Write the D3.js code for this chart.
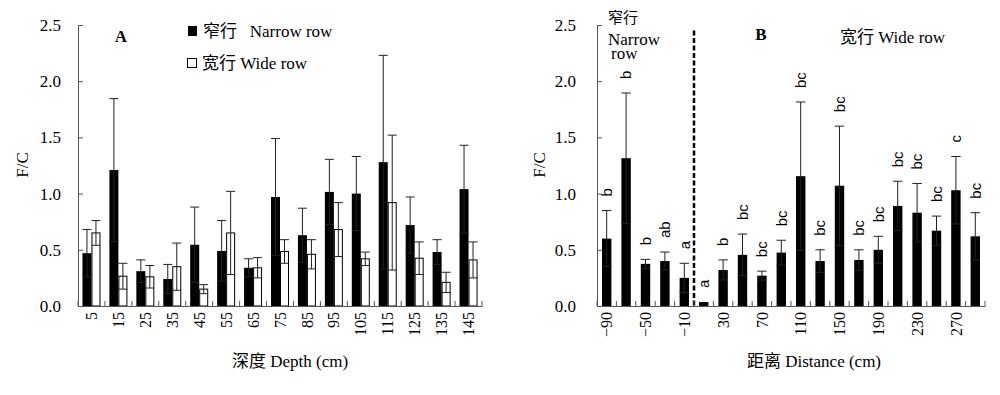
<!DOCTYPE html>
<html lang="zh">
<head>
<meta charset="UTF-8">
<title>F/C</title>
<script src="https://cdn.jsdelivr.net/npm/d3@7/dist/d3.min.js"></script>
<style>
    body { margin: 0; background: #fff; }
</style>
</head>
<body>
<div id="chart"></div>
<script>
const W = 1000, H = 395;

// panel A: depth profile
const depth = [5, 15, 25, 35, 45, 55, 65, 75, 85, 95, 105, 115, 125, 135, 145];
const narrowMean = [0.47, 1.21, 0.31, 0.24, 0.545, 0.49, 0.34, 0.97, 0.63, 1.015, 1.00, 1.28, 0.72, 0.48, 1.04];
const narrowSE   = [0.21, 0.635, 0.10, 0.13, 0.335, 0.27, 0.08, 0.52, 0.24, 0.29, 0.33, 0.95, 0.25, 0.11, 0.39];
const wideMean   = [0.65, 0.265, 0.26, 0.35, 0.15, 0.65, 0.34, 0.485, 0.46, 0.68, 0.42, 0.92, 0.425, 0.21, 0.41];
const wideSE     = [0.11, 0.115, 0.10, 0.21, 0.04, 0.37, 0.09, 0.105, 0.13, 0.24, 0.06, 0.60, 0.145, 0.09, 0.16];

// panel B: distance from row
const distance = [-90, -70, -50, -30, -10, 10, 30, 50, 70, 90, 110, 130, 150, 170, 190, 210, 230, 250, 270, 290];
const distMean = [0.60, 1.315, 0.375, 0.40, 0.25, 0.035, 0.32, 0.455, 0.27, 0.475, 1.155, 0.40, 1.07, 0.41, 0.50, 0.89, 0.83, 0.67, 1.03, 0.62];
const distSE   = [0.25, 0.58, 0.04, 0.08, 0.13, 0, 0.09, 0.185, 0.04, 0.11, 0.66, 0.10, 0.53, 0.09, 0.12, 0.22, 0.26, 0.13, 0.30, 0.21];
const distSig  = ['b', 'b', 'b', 'ab', 'a', 'a', 'b', 'bc', 'bc', 'bc', 'bc', 'bc', 'bc', 'bc', 'bc', 'bc', 'bc', 'bc', 'c', 'bc'];
const distTicks = [-90, -50, -10, 30, 70, 110, 150, 190, 230, 270];

const yTicks = [0, 0.5, 1.0, 1.5, 2.0, 2.5];

const SERIF = '"Liberation Serif", "Times New Roman", "DejaVu Serif", serif';
const CJK = '"Noto Sans CJK SC", sans-serif';
const SANS = '"Liberation Sans", Arial, sans-serif';

const svg = d3.select('#chart').append('svg')
    .attr('width', W).attr('height', H);

const y = d3.scaleLinear().domain([0, 2.5]).range([306, 25]);
const axisCol = '#555';

// text helper: chinese part and latin part get their own font
function label(g, x, yy, cjk, latin, size, extra) {
    const t = g.append('text').attr('x', x).attr('y', yy)
        .style('font-size', size + 'px').attr('fill', '#000')
        .attr('xml:space', 'preserve')
    if (cjk) t.append('tspan').style('font-family', CJK).text(cjk)
    if (latin) t.append('tspan').style('font-family', SERIF).text(latin)
    if (extra) extra(t)
    return t
}

function yAxis(g, left, pad) {
    g.attr('transform', `translate(${left},0)`)
        .call(d3.axisLeft(y).tickValues(yTicks).tickFormat(d3.format('.1f')).tickSize(-5).tickSizeOuter(0).tickPadding(pad))
    g.select('.domain').attr('stroke', axisCol)
    g.selectAll('.tick line').attr('stroke', axisCol)
    g.selectAll('.tick text').style('font-size', '17px').style('font-family', SERIF)
}

function xAxis(g, x, vals, fmt) {
    g.attr('transform', `translate(0,${y(0)})`)
        .call(d3.axisBottom(x).tickValues(vals).tickFormat(fmt).tickSize(0).tickSizeOuter(0))
    g.select('.domain').attr('stroke', axisCol)
    g.selectAll('.tick text')
        .style('font-size', '16px')
        .style('font-family', SERIF)
        .attr('transform', 'rotate(-90)')
        .attr('text-anchor', 'end')
        .attr('x', -6).attr('y', 0).attr('dy', '0.35em')
    // little inner ticks on band boundaries
    const r = x.range()
    const n = x.domain().length
    g.selectAll('.sep').data(d3.range(n + 1)).enter()
        .append('line').attr('class', 'sep')
        .attr('x1', i => r[0] + i * x.step()).attr('x2', i => r[0] + i * x.step())
        .attr('y1', 0).attr('y2', -5)
        .attr('stroke', axisCol)
}

function errBars(g, cx, mean, se, half) {
    const data = mean.map((m, i) => ({ i: i, m: m, s: se[i] })).filter(d => d.s > 0)
    const e = g.append('g').attr('stroke', '#222').attr('stroke-width', 1)
    e.selectAll('.v').data(data).enter().append('line')
        .attr('x1', d => cx(d.i)).attr('x2', d => cx(d.i))
        .attr('y1', d => y(d.m - d.s)).attr('y2', d => y(d.m + d.s))
    e.selectAll('.t').data(data).enter().append('line')
        .attr('x1', d => cx(d.i) - half).attr('x2', d => cx(d.i) + half)
        .attr('y1', d => y(d.m + d.s)).attr('y2', d => y(d.m + d.s))
    e.selectAll('.b').data(data).enter().append('line')
        .attr('x1', d => cx(d.i) - half).attr('x2', d => cx(d.i) + half)
        .attr('y1', d => y(d.m - d.s)).attr('y2', d => y(d.m - d.s))
}

// ---------- A ----------
const xA = d3.scaleBand().domain(depth).range([78, 482])
const bwA = 9
const gA = svg.append('g')

gA.append('g').selectAll('rect.n').data(narrowMean).enter().append('rect')
    .attr('x', (d, i) => xA(depth[i]) + xA.bandwidth() / 2 - bwA)
    .attr('y', d => y(d)).attr('width', bwA).attr('height', d => y(0) - y(d))
    .attr('fill', '#000')
gA.append('g').selectAll('rect.w').data(wideMean).enter().append('rect')
    .attr('x', (d, i) => xA(depth[i]) + xA.bandwidth() / 2 + 0.5)
    .attr('y', d => y(d)).attr('width', bwA - 1).attr('height', d => y(0) - y(d))
    .attr('fill', '#fff').attr('stroke', '#000').attr('stroke-width', 1)

errBars(gA, i => xA(depth[i]) + xA.bandwidth() / 2 - bwA / 2, narrowMean, narrowSE, 4.5)
errBars(gA, i => xA(depth[i]) + xA.bandwidth() / 2 + bwA / 2, wideMean, wideSE, 4.5)

gA.append('g').call(yAxis, 78, 17)
gA.append('g').call(xAxis, xA, depth, d => d)

label(gA, 121, 42, null, 'A', 17, t => t.attr('text-anchor', 'middle').style('font-weight', 'bold'))

// legend
gA.append('rect').attr('x', 188).attr('y', 26).attr('width', 9).attr('height', 10).attr('fill', '#000')
gA.append('rect').attr('x', 187.5).attr('y', 58.5).attr('width', 9).attr('height', 9)
    .attr('fill', '#fff').attr('stroke', '#000')
label(gA, 203, 37, '窄行', '   Narrow row', 17)
label(gA, 202, 69, '宽行', ' Wide row', 17)

label(gA, 0, 0, null, 'F/C', 17, t => t.attr('transform', 'translate(28,165) rotate(-90)').attr('text-anchor', 'middle'))
label(gA, 290, 367, '深度', ' Depth (cm)', 17, t => t.attr('text-anchor', 'middle'))

// ---------- B ----------
const xB = d3.scaleBand().domain(distance).range([597, 985])
const bwB = 9.4
const gB = svg.append('g')

gB.append('g').selectAll('rect').data(distMean).enter().append('rect')
    .attr('x', (d, i) => xB(distance[i]) + (xB.bandwidth() - bwB) / 2)
    .attr('y', d => y(d)).attr('width', bwB).attr('height', d => y(0) - y(d))
    .attr('fill', '#000')

const cxB = i => xB(distance[i]) + xB.bandwidth() / 2
errBars(gB, cxB, distMean, distSE, 4.7)

gB.append('g').selectAll('text').data(distSig).enter().append('text')
    .attr('transform', (d, i) => `translate(${cxB(i)},${y(distMean[i] + distSE[i]) - 14}) rotate(-90)`)
    .attr('dy', '0.35em')
    .style('font-family', SANS)
    .style('font-size', '15px')
    .text(d => d)

// narrow / wide split
const split = xB.range()[0] + 5 * xB.step()
gB.append('line').attr('x1', split).attr('x2', split)
    .attr('y1', y(2.45)).attr('y2', y(0))
    .attr('stroke', '#000').attr('stroke-width', 2.5).attr('stroke-dasharray', '5,2.5')

gB.append('g').call(yAxis, 597, 21)
gB.append('g').call(xAxis, xB, distTicks, d => d < 0 ? '\u2212' + Math.abs(d) : d)

label(gB, 761, 40, null, 'B', 17, t => t.attr('text-anchor', 'middle').style('font-weight', 'bold'))
label(gB, 840, 43, '宽行', ' Wide row', 17)
label(gB, 608, 23, '窄行', null, 15)
label(gB, 608, 45, null, 'Narrow', 17)
label(gB, 611, 59, null, 'row', 17)

label(gB, 0, 0, null, 'F/C', 17, t => t.attr('transform', 'translate(545,165) rotate(-90)').attr('text-anchor', 'middle'))
label(gB, 814, 367, '距离', ' Distance (cm)', 17, t => t.attr('text-anchor', 'middle'))
</script>
</body>
</html>
